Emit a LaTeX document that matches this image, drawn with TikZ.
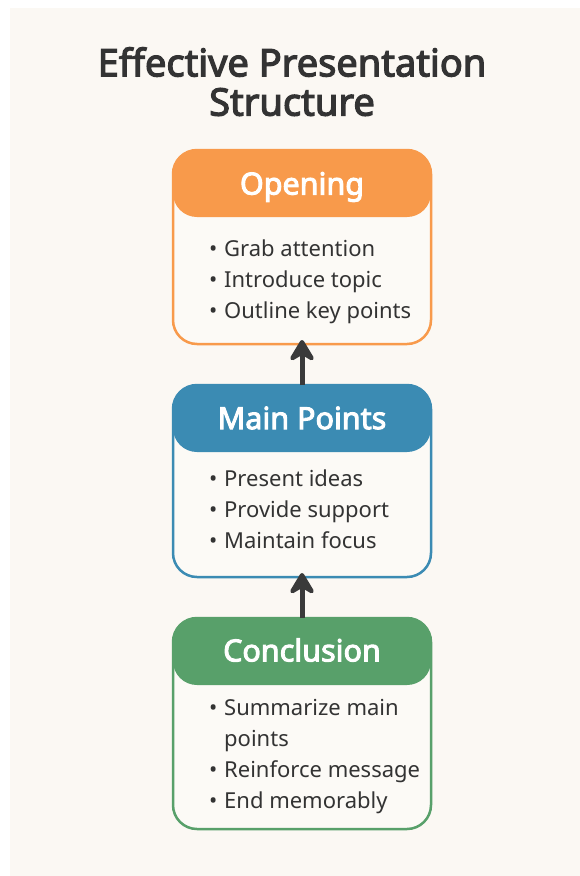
\documentclass[tikz,border=0pt]{standalone}
\usepackage{fontspec}
\setmainfont{Noto Sans}
\newfontfamily\heavyfont{Noto Sans}[FakeBold=3.2]
\usetikzlibrary{arrows.meta}
\definecolor{bgcard}{HTML}{FBF8F3}
\definecolor{bodyfill}{HTML}{FCFAF6}
\definecolor{orangeC}{HTML}{F89A4B}
\definecolor{blueC}{HTML}{3B8BB3}
\definecolor{greenC}{HTML}{58A06A}
\definecolor{textC}{HTML}{333333}
\definecolor{arrowC}{HTML}{3A3A3A}
\tikzset{
  card/.style={draw=#1, fill=bodyfill, line width=2.5pt, rounded corners=24pt,
    minimum width=258pt, inner sep=0pt, outer sep=0pt,
    path picture={\fill[#1] (path picture bounding box.north west) rectangle ([yshift=-67pt]path picture bounding box.north east);}},
  headtxt/.style={text=white, font=\heavyfont\fontsize{30.5}{34}\selectfont, inner sep=0pt},
  bullets/.style={text=textC, font=\fontsize{22}{30.7}\selectfont, align=left, inner sep=0pt, anchor=north west},
  titletxt/.style={text=textC, font=\heavyfont\fontsize{38}{40}\selectfont, align=center, inner sep=0pt},
  uparrow/.style={draw=arrowC, line width=5pt, -{Stealth[length=26pt,width=31pt,inset=9pt,round]}}
}
\newcommand{\bl}{\makebox[15pt][l]{•}}
\begin{document}
\begin{tikzpicture}[x=1pt,y=-1pt]
\useasboundingbox (0,0) rectangle (580,876);
\fill[white] (0,0) rectangle (580,876);
\fill[bgcard] (10,8) rectangle (580,876);

\node[titletxt] (title1) at (292,62) {Effective Presentation};
\node[titletxt] (title2) at (292,102) {Structure};

% Opening
\node[card=orangeC, minimum height=194pt] (open) at (302,247) {};
\node[headtxt] (openh) at (302,187) {Opening};
\node[bullets] (openb) at (209,240) {\bl Grab attention\\ \bl Introduce topic\\ \bl Outline key points};

% Main points
\node[card=blueC, minimum height=192pt] (main) at (302,481) {};
\node[headtxt] (mainh) at (302,418) {Main Points};
\node[bullets] (mainb) at (209,470) {\bl Present ideas\\ \bl Provide support\\ \bl Maintain focus};

% Conclusion
\node[card=greenC, minimum height=211pt] (conc) at (302,723.5) {};
\node[headtxt] (conch) at (302,650) {Conclusion};
\node[bullets] (concb) at (209,699.5) {\bl Summarize main\\ \hspace*{15pt}points\\ \bl Reinforce message\\ \bl End memorably};

% arrows
\draw[uparrow] (main.north) -- ([yshift=4pt]open.south);
\draw[uparrow] (conc.north) -- ([yshift=4pt]main.south);
\end{tikzpicture}
\end{document}
